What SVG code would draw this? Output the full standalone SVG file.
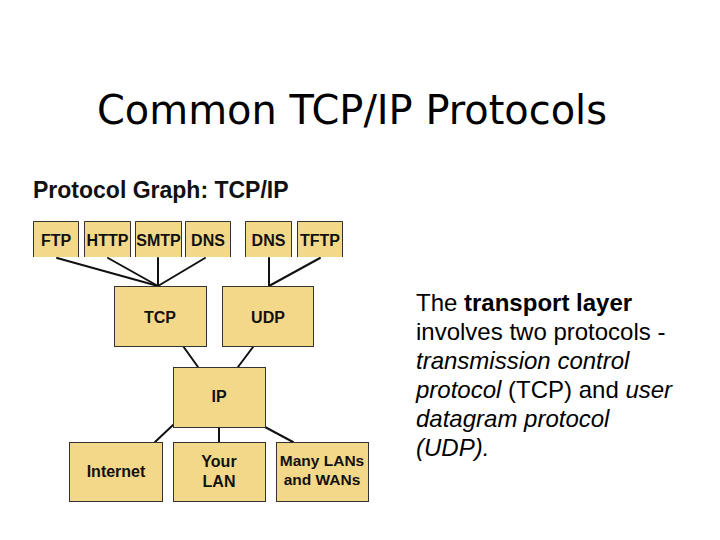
<svg xmlns="http://www.w3.org/2000/svg" width="720" height="540" viewBox="0 0 720 540">
<style>
.box{fill:#F4D889;stroke:none}
.edge{fill:none;stroke:#333;stroke-width:1}
.lbl{font-family:"Liberation Sans",Arial,sans-serif;font-weight:bold;font-size:16px;fill:#111;text-anchor:middle}
.conn line{stroke:#111;stroke-width:2;stroke-linecap:round}
.para{font-family:"Liberation Sans",Arial,sans-serif;font-size:24px;fill:#000}
</style>
<rect width="720" height="540" fill="#fff"/>
<text x="352" y="124" font-family="'DejaVu Sans',Tahoma,sans-serif" font-size="41" fill="#000" text-anchor="middle" textLength="510" lengthAdjust="spacingAndGlyphs">Common TCP/IP Protocols</text>
<text x="33" y="198" font-family="'Liberation Sans',Arial,sans-serif" font-weight="bold" font-size="23" fill="#111">Protocol Graph: TCP/IP</text>

<g id="connectors" class="conn">
<line x1="57" y1="258" x2="158" y2="286"/>
<line x1="108" y1="258" x2="158" y2="286"/>
<line x1="158" y1="258" x2="158" y2="286"/>
<line x1="205" y1="258" x2="158" y2="286"/>
<line x1="269" y1="258" x2="269" y2="286"/>
<line x1="320" y1="258" x2="269" y2="286"/>
<line x1="183" y1="346" x2="198" y2="367"/>
<line x1="253" y1="347" x2="238" y2="367"/>
<line x1="173" y1="425" x2="155" y2="442"/>
<line x1="219" y1="427" x2="219" y2="442"/>
<line x1="265" y1="427" x2="293" y2="442"/>
</g>

<g id="ftp"><rect class="box" x="33" y="221" width="46" height="36"/><path class="edge" d="M33.5,257V221.5H78.5V257"/><text class="lbl" x="56" y="246">FTP</text></g>
<g id="http"><rect class="box" x="84" y="221" width="47" height="36"/><path class="edge" d="M84.5,257V221.5H130.5V257"/><text class="lbl" x="107.5" y="246">HTTP</text></g>
<g id="smtp"><rect class="box" x="135" y="221" width="47" height="36"/><path class="edge" d="M135.5,257V221.5H181.5V257"/><text class="lbl" x="158.5" y="246">SMTP</text></g>
<g id="dns1"><rect class="box" x="185" y="221" width="46" height="36"/><path class="edge" d="M185.5,257V221.5H230.5V257"/><text class="lbl" x="208" y="246">DNS</text></g>
<g id="dns2"><rect class="box" x="245" y="221" width="47" height="36"/><path class="edge" d="M245.5,257V221.5H291.5V257"/><text class="lbl" x="268.5" y="246">DNS</text></g>
<g id="tftp"><rect class="box" x="297" y="221" width="46" height="36"/><path class="edge" d="M297.5,257V221.5H342.5V257"/><text class="lbl" x="320" y="246">TFTP</text></g>

<g id="tcp"><rect class="box" x="114.5" y="286.5" width="92" height="60"/><rect class="edge" x="114.5" y="286.5" width="92" height="60"/><text class="lbl" x="160" y="323">TCP</text></g>
<g id="udp"><rect class="box" x="222.5" y="286.5" width="91" height="60"/><rect class="edge" x="222.5" y="286.5" width="91" height="60"/><text class="lbl" x="268" y="323">UDP</text></g>
<g id="ip"><rect class="box" x="173.5" y="367.5" width="92" height="60"/><rect class="edge" x="173.5" y="367.5" width="92" height="60"/><text class="lbl" x="219" y="402">IP</text></g>
<g id="internet"><rect class="box" x="69.5" y="442.5" width="93" height="59"/><rect class="edge" x="69.5" y="442.5" width="93" height="59"/><text class="lbl" x="116" y="477">Internet</text></g>
<g id="yourlan"><rect class="box" x="173.5" y="442.5" width="92" height="59"/><rect class="edge" x="173.5" y="442.5" width="92" height="59"/><text class="lbl" x="219" y="467">Your</text><text class="lbl" x="219" y="487">LAN</text></g>
<g id="many"><rect class="box" x="276.5" y="442.5" width="92" height="59"/><rect class="edge" x="276.5" y="442.5" width="92" height="59"/><text class="lbl" x="322" y="466" style="font-size:15.5px">Many LANs</text><text class="lbl" x="322" y="485" style="font-size:15.5px">and WANs</text></g>

<g id="description" class="para">
<text x="416" y="311">The <tspan font-weight="bold">transport layer</tspan></text>
<text x="416" y="340">involves two protocols -</text>
<text x="416" y="369" font-style="italic">transmission control</text>
<text x="416" y="398"><tspan font-style="italic">protocol</tspan> (TCP) and <tspan font-style="italic">user</tspan></text>
<text x="416" y="427" font-style="italic">datagram protocol</text>
<text x="416" y="456" font-style="italic">(UDP).</text>
</g>
</svg>
